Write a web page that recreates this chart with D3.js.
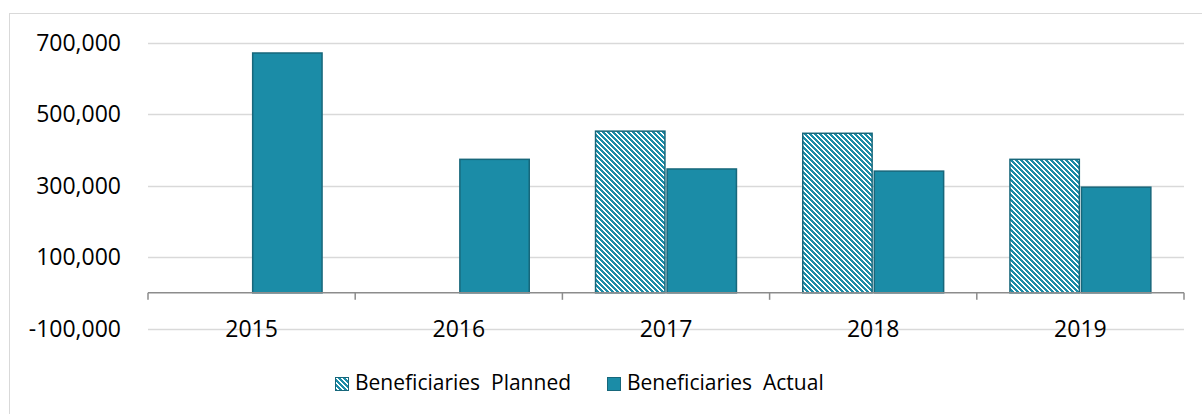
<!DOCTYPE html>
<html>
<head>
<meta charset="utf-8">
<script src="https://cdn.jsdelivr.net/npm/d3@7"></script>
<style>
  html, body { margin: 0; padding: 0; background: #fff; }
  svg { display: block; }
  text { font-family: "Open Sans", "Noto Sans", sans-serif; fill: #000; }
</style>
</head>
<body>
<svg id="chart" width="1202" height="414"></svg>
<script>
const categories = ["2015", "2016", "2017", "2018", "2019"];
const seriesNames = ["Beneficiaries  Planned", "Beneficiaries  Actual"];
const planned = [null, null, 453000, 447000, 374000];
const actual = [672000, 374000, 347000, 341000, 296000];
const yTicks = [-100000, 100000, 300000, 500000, 700000];

const svg = d3.select("#chart");
const W = 1202, H = 414;
const fill = "#1b8ca7", stroke = "#17677b";

// frame
svg.append("rect").attr("x", 9.5).attr("y", 13.5).attr("width", W).attr("height", H)
  .attr("fill", "none").attr("stroke", "#d9d9d9").attr("stroke-width", 1);

// pixel hatch pattern (downward diagonal)
const P = 5;
const defs = svg.append("defs");
const pat = defs.append("pattern").attr("id", "hatch")
  .attr("patternUnits", "userSpaceOnUse").attr("width", P).attr("height", P);
pat.append("rect").attr("width", P).attr("height", P).attr("fill", "#fff");
const cells = [];
for (let r = 0; r < P; r++) for (let k = 0; k < 3; k++) cells.push([(r + k) % P, r]);
pat.selectAll("rect.px").data(cells).join("rect").attr("class", "px")
  .attr("x", d => d[0]).attr("y", d => d[1]).attr("width", 1).attr("height", 1)
  .attr("fill", fill).attr("shape-rendering", "crispEdges");

const x0 = d3.scaleBand().domain(categories).range([148, 1184]).paddingInner(0).paddingOuter(0);
const bw = x0.bandwidth();
const x1 = d3.scaleBand().domain(["planned", "actual"]).range([bw * 0.16, bw * 0.84]).paddingInner(0.03).paddingOuter(0);
const y = d3.scaleLinear().domain([-100000, 700000]).range([328.5, 43]);
const fmt = d => d3.format(",")(d).replace("\u2212", "-");

// gridlines
svg.append("g").selectAll("line").data(yTicks).join("line")
  .attr("x1", 148).attr("x2", 1184)
  .attr("y1", d => Math.round(y(d)) + 0.5).attr("y2", d => Math.round(y(d)) + 0.5)
  .attr("stroke", "#d9d9d9").attr("stroke-width", 1.5);

// y labels
svg.append("g").selectAll("text").data(yTicks).join("text")
  .attr("x", 121).attr("y", d => y(d)).attr("dy", "0.35em")
  .attr("text-anchor", "end").attr("font-size", 23)
  .text(fmt);

// bars
const rows = categories.map((c, i) => ({ c, planned: planned[i], actual: actual[i] }));
const g = svg.append("g");
rows.forEach(r => {
  if (r.planned != null) {
    g.append("rect")
      .attr("x", x0(r.c) + x1("planned")).attr("width", x1.bandwidth())
      .attr("y", y(r.planned)).attr("height", y(0) - y(r.planned))
      .attr("fill", "url(#hatch)").attr("stroke", stroke).attr("stroke-width", 1.5);
  }
  if (r.actual != null) {
    g.append("rect")
      .attr("x", x0(r.c) + x1("actual")).attr("width", x1.bandwidth())
      .attr("y", y(r.actual)).attr("height", y(0) - y(r.actual))
      .attr("fill", fill).attr("stroke", stroke).attr("stroke-width", 1.5);
  }
});

// x axis
const axisY = y(0);
const ax = svg.append("g").attr("transform", `translate(0,${axisY})`)
  .call(d3.axisBottom(x0).tickSize(0).tickFormat(""));
ax.select(".domain").remove();
svg.append("line").attr("x1", 148).attr("x2", 1184).attr("y1", axisY).attr("y2", axisY)
  .attr("stroke", "#8c8c8c").attr("stroke-width", 1.5);
const bounds = categories.map(c => x0(c)).concat([x0.range()[1]]);
svg.append("g").selectAll("line").data(bounds).join("line")
  .attr("x1", d => d).attr("x2", d => d).attr("y1", axisY).attr("y2", axisY + 7)
  .attr("stroke", "#8c8c8c").attr("stroke-width", 1.5);
svg.append("g").selectAll("text").data(categories).join("text")
  .attr("x", d => x0(d) + bw / 2).attr("y", 337)
  .attr("text-anchor", "middle").attr("font-size", 23).text(d => d);

// legend
const leg = svg.append("g");
const items = [
  { name: seriesNames[0], fill: "url(#hatch)", sx: 335, tx: 355 },
  { name: seriesNames[1], fill: fill, sx: 607, tx: 627 }
];
items.forEach(it => {
  leg.append("rect").attr("x", it.sx + 0.5).attr("y", 377.5).attr("width", 13).attr("height", 13)
    .attr("fill", it.fill).attr("stroke", stroke).attr("stroke-width", 1);
  leg.append("text").attr("x", it.tx).attr("y", 389.5).attr("font-size", 21)
    .style("white-space", "pre").text(it.name);
});
</script>
</body>
</html>
